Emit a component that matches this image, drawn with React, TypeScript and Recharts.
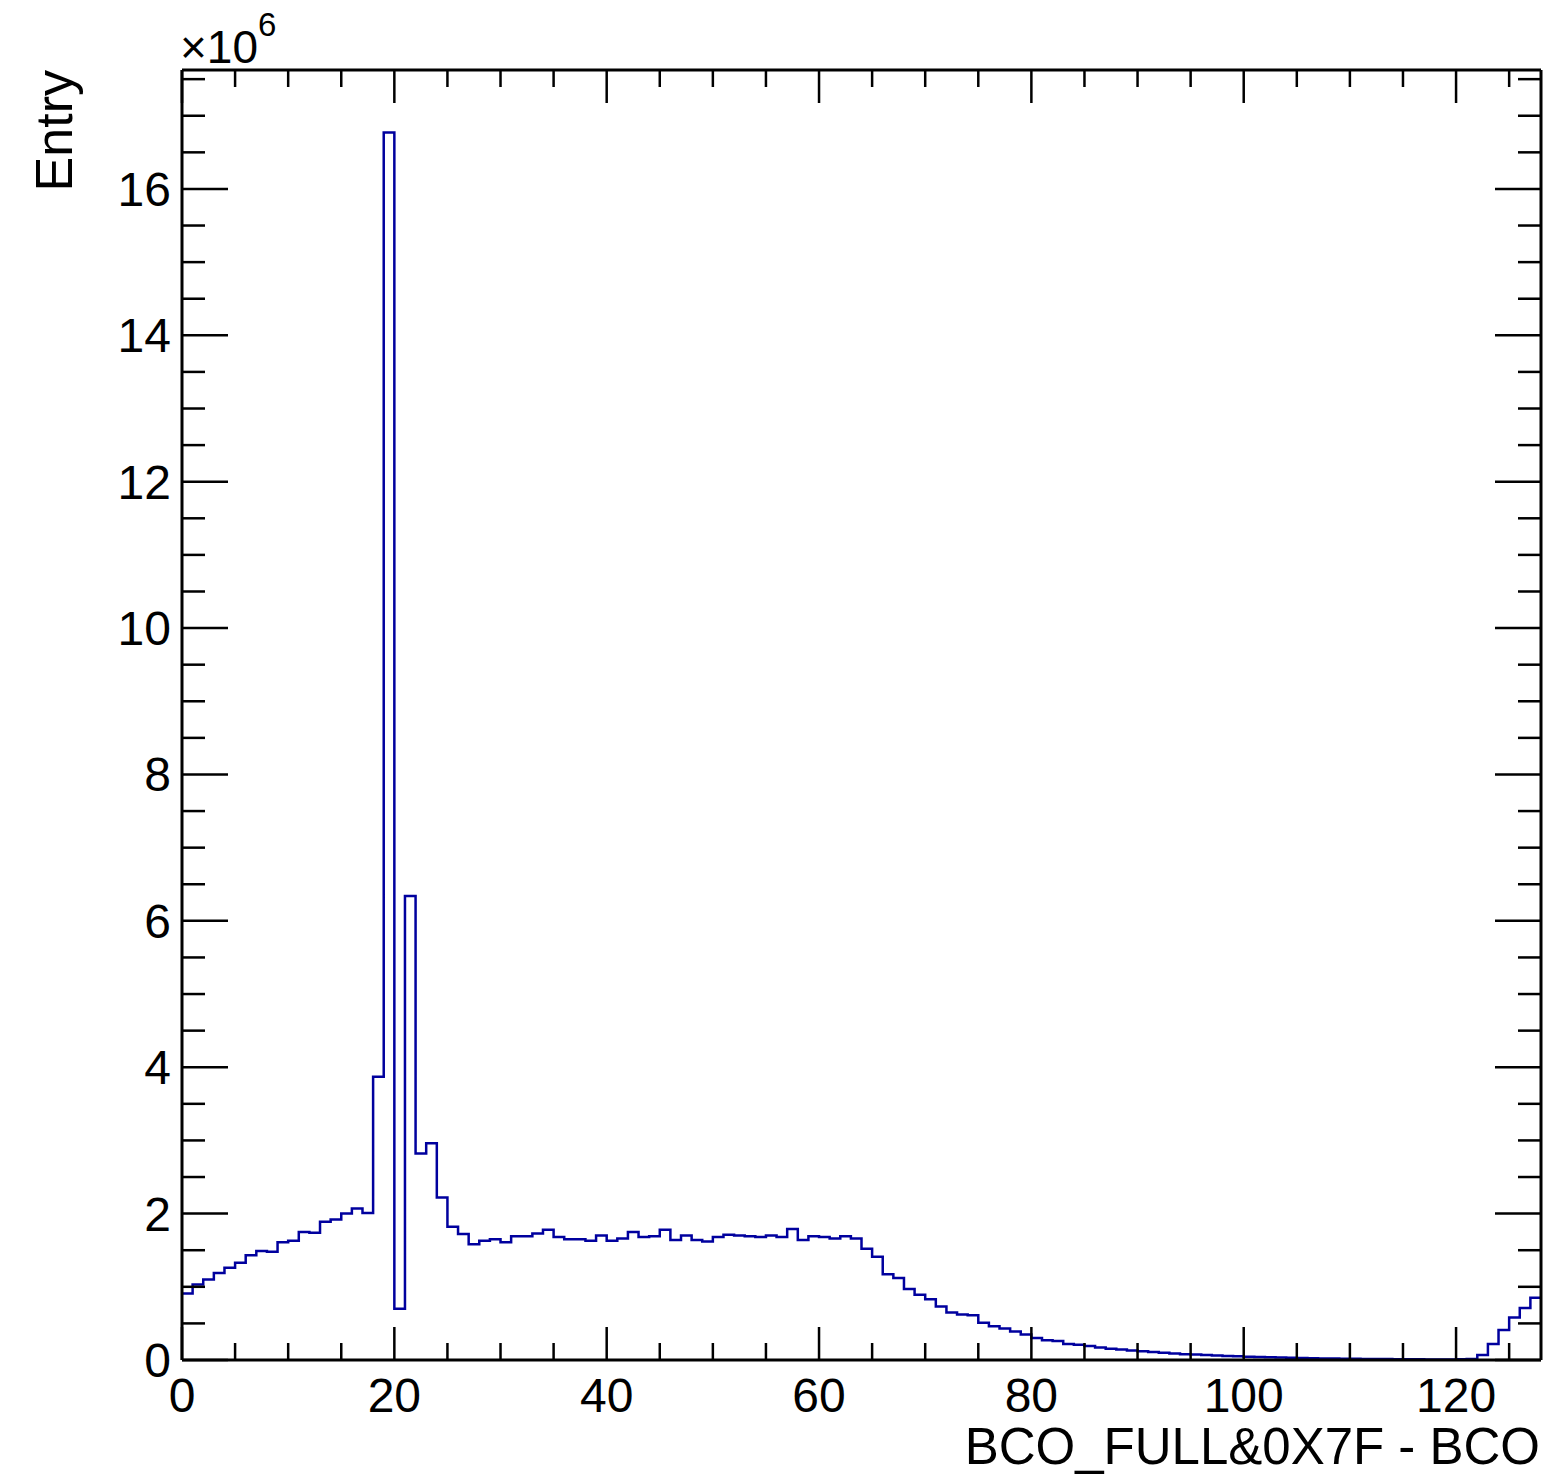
import React from "react";
import { LineChart, Line, XAxis, YAxis } from "recharts";

// bin contents in units of 1e6, one per unit bin from 0 to 128
const entries: number[] = [
  0.91, 1.03, 1.1, 1.19, 1.26, 1.33, 1.43, 1.49, 1.48, 1.61,
  1.63, 1.75, 1.74, 1.89, 1.92, 2.0, 2.07, 2.01, 3.87, 16.77,
  0.7, 6.34, 2.82, 2.96, 2.22, 1.82, 1.72, 1.58, 1.63, 1.65,
  1.61, 1.69, 1.69, 1.73, 1.78, 1.68, 1.65, 1.65, 1.63, 1.7,
  1.63, 1.66, 1.75, 1.68, 1.69, 1.78, 1.64, 1.7, 1.64, 1.62,
  1.68, 1.71, 1.7, 1.69, 1.68, 1.7, 1.68, 1.79, 1.64, 1.69,
  1.68, 1.66, 1.69, 1.66, 1.52, 1.41, 1.17, 1.12, 0.97, 0.89,
  0.83, 0.73, 0.65, 0.62, 0.61, 0.51, 0.46, 0.43, 0.39, 0.35,
  0.3, 0.27, 0.26, 0.22, 0.21, 0.19, 0.17, 0.155, 0.145, 0.13,
  0.12, 0.11, 0.1, 0.09, 0.08, 0.075, 0.07, 0.06, 0.055, 0.05,
  0.045, 0.04, 0.037, 0.033, 0.03, 0.027, 0.024, 0.022, 0.02, 0.018,
  0.016, 0.015, 0.013, 0.012, 0.011, 0.01, 0.009, 0.008, 0.008, 0.008,
  0.01, 0.015, 0.07, 0.22, 0.41, 0.58, 0.71, 0.85,
];

const xTicks: number[] = Array.from({ length: 26 }, (_, i) => i * 5);
const yTicks: number[] = Array.from({ length: 36 }, (_, i) => i * 0.5);
const xMax = 128;
const yMax = 17.625;

const W = 1547;
const H = 1477;
const FONT = "'Liberation Sans', Arial, Helvetica, sans-serif";
const LINE_BLUE = "#00009e";

// step histogram: each bin edge carries the bin content, last edge repeats it
const histData = [
  ...entries.map((v, i) => ({ x: i, y: v })),
  { x: xMax, y: entries[entries.length - 1] },
];

const isMajorX = (v: number) => v % 20 === 0;
const isMajorY = (v: number) => v % 2 === 0;

const BottomTick = (props: any) => {
  const { x, y, payload } = props;
  const major = isMajorX(payload.value);
  return (
    <g>
      <line x1={x} x2={x} y1={y} y2={y - (major ? 33 : 17)} stroke="#000" strokeWidth={2.5} />
      {major && (
        <text x={x} y={y + 52} textAnchor="middle" fontSize={48} fontFamily={FONT} fill="#000">
          {payload.value}
        </text>
      )}
    </g>
  );
};

const TopTick = (props: any) => {
  const { x, y, payload } = props;
  const major = isMajorX(payload.value);
  return <line x1={x} x2={x} y1={y} y2={y + (major ? 33 : 17)} stroke="#000" strokeWidth={2.5} />;
};

const LeftTick = (props: any) => {
  const { x, y, payload } = props;
  const major = isMajorY(payload.value);
  return (
    <g>
      <line x1={x} x2={x + (major ? 46 : 23)} y1={y} y2={y} stroke="#000" strokeWidth={2.5} />
      {major && (
        <text x={x - 11} y={y + 17} textAnchor="end" fontSize={48} fontFamily={FONT} fill="#000">
          {payload.value}
        </text>
      )}
    </g>
  );
};

const RightTick = (props: any) => {
  const { x, y, payload } = props;
  const major = isMajorY(payload.value);
  return <line x1={x} x2={x - (major ? 46 : 23)} y1={y} y2={y} stroke="#000" strokeWidth={2.5} />;
};

const frame = { stroke: "#000", strokeWidth: 3 };

export default function App() {
  return (
    <div style={{ position: "absolute", left: 0, top: 0, width: W, height: H, background: "#fff" }}>
      <LineChart
        width={W}
        height={H}
        data={histData}
        margin={{ top: 69, right: 5, bottom: 116, left: 181 }}
      >
        <XAxis
          xAxisId="b"
          dataKey="x"
          type="number"
          domain={[0, xMax]}
          ticks={xTicks}
          interval={0}
          height={1}
          tickSize={0}
          tickMargin={0}
          tickLine={false}
          axisLine={frame}
          tick={(p: any) => <BottomTick {...p} />}
        />
        <XAxis
          xAxisId="t"
          orientation="top"
          dataKey="x"
          type="number"
          domain={[0, xMax]}
          ticks={xTicks}
          interval={0}
          height={1}
          tickSize={0}
          tickMargin={0}
          tickLine={false}
          axisLine={frame}
          tick={(p: any) => <TopTick {...p} />}
        />
        <YAxis
          yAxisId="l"
          type="number"
          domain={[0, yMax]}
          ticks={yTicks}
          interval={0}
          width={1}
          tickSize={0}
          tickMargin={0}
          tickLine={false}
          axisLine={frame}
          tick={(p: any) => <LeftTick {...p} />}
        />
        <YAxis
          yAxisId="r"
          orientation="right"
          type="number"
          domain={[0, yMax]}
          ticks={yTicks}
          interval={0}
          width={1}
          tickSize={0}
          tickMargin={0}
          tickLine={false}
          axisLine={frame}
          tick={(p: any) => <RightTick {...p} />}
        />
        <Line
          xAxisId="b"
          yAxisId="l"
          dataKey="y"
          type="stepAfter"
          stroke={LINE_BLUE}
          strokeWidth={2.5}
          dot={false}
          activeDot={false}
          isAnimationActive={false}
        />
        <Line
          xAxisId="t"
          yAxisId="r"
          dataKey="y"
          type="stepAfter"
          stroke="none"
          dot={false}
          activeDot={false}
          isAnimationActive={false}
        />
      </LineChart>
      <svg
        width={W}
        height={H}
        style={{ position: "absolute", left: 0, top: 0, pointerEvents: "none" }}
      >
        <text x={180} y={63} fontSize={46} fontFamily={FONT} fill="#000">
          ×10
          <tspan dy={-27} fontSize={33}>6</tspan>
        </text>
        <text
          x={1540}
          y={1464}
          textAnchor="end"
          fontSize={51}
          fontFamily={FONT}
          fill="#000"
        >
          BCO_FULL&amp;0X7F - BCO
        </text>
        <text
          transform="translate(72,70) rotate(-90)"
          x={0}
          y={0}
          textAnchor="end"
          fontSize={52}
          fontFamily={FONT}
          fill="#000"
        >
          Entry
        </text>
      </svg>
    </div>
  );
}
